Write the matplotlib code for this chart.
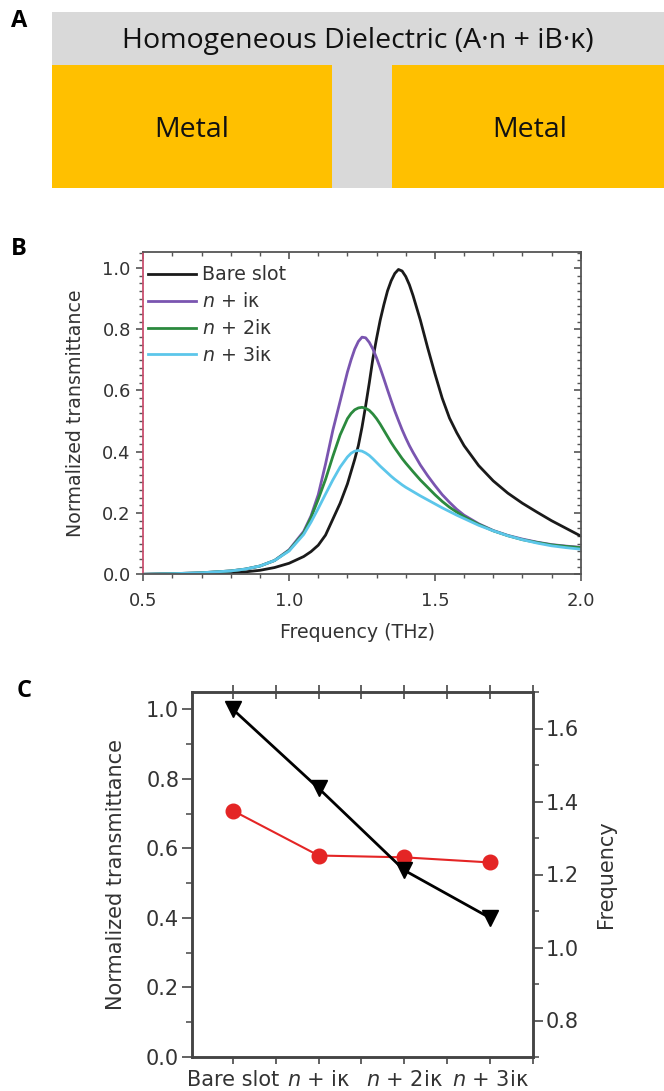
import numpy as np
import matplotlib
matplotlib.use("Agg")
import matplotlib.pyplot as plt
from matplotlib.patches import Rectangle
from matplotlib.ticker import MultipleLocator, FixedLocator, FormatStrFormatter

# ---- panel B: transmittance spectra ----
freq = [0.5, 0.6, 0.7, 0.8, 0.85, 0.9, 0.95, 1.0, 1.05, 1.075, 1.1, 1.125, 1.15, 1.175,
        1.2, 1.2125, 1.225, 1.2375, 1.25, 1.2625, 1.275, 1.2875, 1.3, 1.3125, 1.325,
        1.3375, 1.35, 1.3625, 1.375, 1.3875, 1.4, 1.4125, 1.425, 1.45, 1.475, 1.5,
        1.525, 1.55, 1.575, 1.6, 1.65, 1.7, 1.75, 1.8, 1.85, 1.9, 1.95, 2.0]
bare_slot = [0.0, 0.001, 0.002, 0.005, 0.008, 0.013, 0.022, 0.036, 0.058, 0.074, 0.095, 0.128, 0.18, 0.232,
             0.295, 0.335, 0.375, 0.42, 0.48, 0.55, 0.625, 0.705, 0.77, 0.83, 0.88,
             0.925, 0.958, 0.982, 0.995, 0.99, 0.972, 0.945, 0.91, 0.83, 0.74, 0.655,
             0.575, 0.51, 0.462, 0.42, 0.355, 0.305, 0.265, 0.232, 0.203, 0.175, 0.15, 0.125]
n_1ik = [0.0, 0.002, 0.005, 0.011, 0.017, 0.027, 0.045, 0.08, 0.14, 0.19, 0.26, 0.36, 0.47, 0.565,
         0.66, 0.70, 0.735, 0.76, 0.774, 0.772, 0.757, 0.735, 0.706, 0.673, 0.638,
         0.602, 0.567, 0.533, 0.502, 0.472, 0.445, 0.42, 0.398, 0.357, 0.322, 0.29,
         0.26, 0.235, 0.212, 0.193, 0.165, 0.143, 0.127, 0.115, 0.105, 0.097, 0.092, 0.088]
n_2ik = [0.0, 0.002, 0.005, 0.011, 0.017, 0.027, 0.045, 0.078, 0.135, 0.185, 0.245, 0.31, 0.385, 0.455,
         0.508, 0.525, 0.537, 0.543, 0.545, 0.542, 0.535, 0.523, 0.508, 0.49, 0.47,
         0.45, 0.43, 0.412, 0.395, 0.378, 0.363, 0.349, 0.335, 0.308, 0.284, 0.26,
         0.238, 0.219, 0.203, 0.188, 0.163, 0.142, 0.126, 0.113, 0.104, 0.096, 0.091, 0.087]
n_3ik = [0.0, 0.002, 0.005, 0.011, 0.017, 0.027, 0.045, 0.076, 0.13, 0.17, 0.215, 0.262, 0.308, 0.35,
         0.383, 0.395, 0.402, 0.404, 0.402, 0.396, 0.388, 0.377, 0.365, 0.353, 0.342,
         0.331, 0.32, 0.31, 0.301, 0.292, 0.284, 0.277, 0.27, 0.256, 0.243, 0.23,
         0.217, 0.205, 0.193, 0.182, 0.16, 0.142, 0.126, 0.113, 0.102, 0.093, 0.087, 0.082]
series_labels = ["Bare slot", r"$n$ + iκ", r"$n$ + 2iκ", r"$n$ + 3iκ"]
series_colors = ["#1a1a1a", "#7a55b0", "#2b8a3e", "#5cc6ea"]

# ---- panel C: peak values ----
cases = ["Bare slot", r"$n$ + iκ", r"$n$ + 2iκ", r"$n$ + 3iκ"]
peak_trans = [1.0, 0.773, 0.537, 0.40]
peak_freq = [1.375, 1.252, 1.247, 1.233]

W, H = 664, 1091
fig = plt.figure(figsize=(W / 100, H / 100), dpi=100)
plt.rcParams['font.family'] = ['DejaVu Sans']

def box(l, t, r, b):
    return [l / W, 1 - b / H, (r - l) / W, (b - t) / H]

txt = "#333333"
spine_c = "#555555"

# ---------------- panel A (schematic) ----------------
axA = fig.add_axes([0, 1 - 195 / H, 1, 195 / H])
axA.set_xlim(0, W)
axA.set_ylim(195, 0)
axA.axis("off")
axA.add_patch(Rectangle((52, 12), 612, 176, color="#d9d9d9", lw=0))
axA.add_patch(Rectangle((52, 65), 280, 123, color="#ffc000", lw=0))
axA.add_patch(Rectangle((392, 65), 272, 123, color="#ffc000", lw=0))
axA.text(358, 48, "Homogeneous Dielectric (A·n + iB·κ)", ha="center", va="baseline",
         family="Open Sans", fontsize=20.5, color="#111111")
axA.text(192, 137, "Metal", ha="center", va="baseline", family="Open Sans", fontsize=20.5, color="#111111")
axA.text(530, 137, "Metal", ha="center", va="baseline", family="Open Sans", fontsize=20.5, color="#111111")

for lab, x, y in [("A", 19, 21), ("B", 19, 249), ("C", 24, 691)]:
    fig.text(x / W, 1 - y / H, lab, ha="center", va="center", family="Open Sans",
             fontweight="bold", fontsize=17, color="black")

# ---------------- panel B ----------------
axB = fig.add_axes(box(143.3, 251.7, 580.7, 574.3))
for y, lab, col in zip([bare_slot, n_1ik, n_2ik, n_3ik], series_labels, series_colors):
    axB.plot(freq, y, color=col, lw=2.0, label=lab, solid_joinstyle="round")
axB.set_xlim(0.5, 2.0)
axB.set_ylim(0, 1.053)
axB.xaxis.set_major_locator(MultipleLocator(0.5))
axB.xaxis.set_minor_locator(MultipleLocator(0.1))
axB.yaxis.set_major_locator(MultipleLocator(0.2))
axB.yaxis.set_minor_locator(MultipleLocator(0.025))
axB.xaxis.set_major_formatter(FormatStrFormatter("%.1f"))
axB.yaxis.set_major_formatter(FormatStrFormatter("%.1f"))
axB.tick_params(which="both", direction="out", top=False, right=False, colors=spine_c,
                labelcolor=txt, labelsize=13)
axB.tick_params(which="major", length=5, width=1.2, pad=4)
axB.tick_params(which="minor", length=3, width=1.0)
axB.tick_params(axis="x", which="major", pad=8)
# mirrored inward ticks on top and right
secx = axB.secondary_xaxis("top")
secx.xaxis.set_major_locator(MultipleLocator(0.5))
secx.xaxis.set_minor_locator(MultipleLocator(0.1))
secx.tick_params(which="both", direction="in", labeltop=False, colors=spine_c)
secx.tick_params(which="major", length=5, width=1.2)
secx.tick_params(which="minor", length=3, width=1.0)
secx.spines["top"].set_visible(False)
secy = axB.secondary_yaxis("right")
secy.yaxis.set_major_locator(MultipleLocator(0.2))
secy.yaxis.set_minor_locator(MultipleLocator(0.025))
secy.tick_params(which="both", direction="in", labelright=False, colors=spine_c)
secy.tick_params(which="major", length=5, width=1.2)
secy.tick_params(which="minor", length=3, width=1.0)
secy.spines["right"].set_visible(False)
for s in axB.spines.values():
    s.set_color(spine_c)
    s.set_linewidth(1.3)
axB.spines["left"].set_color("#c9506f")
axB.set_xlabel("Frequency (THz)", fontsize=13.7, color=txt)
axB.set_ylabel("Normalized transmittance", fontsize=13.7, color=txt)
axB.xaxis.label.set_va("center")
axB.yaxis.label.set_va("center")
axB.xaxis.set_label_coords(0.49, -0.179)
axB.yaxis.set_label_coords(-0.156, 0.5)
leg = axB.legend(loc="upper left", bbox_to_anchor=(0.003, 0.97), frameon=False, fontsize=13.7,
                 handlelength=2.5, handletextpad=0.3, labelspacing=0.42, borderaxespad=0,
                 borderpad=0.2)
for t in leg.get_texts():
    t.set_color(txt)

# ---------------- panel C ----------------
axC = fig.add_axes(box(191.7, 692, 533, 1057))
axR = axC.twinx()
xpos = np.arange(len(cases))
axC.plot(xpos, peak_trans, color="black", lw=2.0, marker="v", markersize=12, zorder=3)
axR.plot(xpos, peak_freq, color="#e42525", lw=1.5, marker="o", markersize=10.5, zorder=2)
axC.set_zorder(axR.get_zorder() + 1)
axC.patch.set_visible(False)
axC.set_xlim(-0.48, 3.5)
axC.set_ylim(0, 1.05)
axR.set_ylim(0.7, 1.7)
axC.xaxis.set_major_locator(FixedLocator(xpos))
axC.xaxis.set_minor_locator(MultipleLocator(0.5))
axC.set_xticklabels(cases)
axC.yaxis.set_major_locator(MultipleLocator(0.2))
axC.yaxis.set_minor_locator(MultipleLocator(0.1))
axC.yaxis.set_major_formatter(FormatStrFormatter("%.1f"))
axR.yaxis.set_major_locator(FixedLocator([0.8, 1.0, 1.2, 1.4, 1.6]))
axR.yaxis.set_minor_locator(MultipleLocator(0.1))
axR.yaxis.set_major_formatter(FormatStrFormatter("%.1f"))
axC.tick_params(which="both", direction="out", right=False, colors=spine_c,
                labelcolor=txt, labelsize=15)
axC.tick_params(axis="x", which="both", top=True, length=5, width=1.3, pad=4)
axC.tick_params(axis="y", which="major", length=7, width=1.3, pad=2)
axC.tick_params(axis="y", which="minor", length=4, width=1.2)
axR.tick_params(which="both", direction="out", colors=spine_c, labelcolor=txt, labelsize=15)
axR.tick_params(which="major", length=7, width=1.3, pad=2)
axR.tick_params(which="minor", length=4, width=1.2)
secx2 = axC.secondary_xaxis("top")
secx2.xaxis.set_major_locator(FixedLocator(xpos))
secx2.xaxis.set_minor_locator(MultipleLocator(0.5))
secx2.tick_params(which="both", direction="in", labeltop=False, colors=spine_c, length=5, width=1.3)
secx2.spines["top"].set_visible(False)
for a in (axC, axR):
    for s in a.spines.values():
        s.set_color("#444444")
        s.set_linewidth(1.8)
axC.set_ylabel("Normalized transmittance", fontsize=15, color=txt)
axC.yaxis.label.set_va("center")
axC.yaxis.set_label_coords(-0.222, 0.5)
axR.set_ylabel("Frequency", fontsize=15, color=txt)
axR.yaxis.label.set_va("center")
axR.yaxis.set_label_coords(1.214, 0.5)

fig.savefig("out.png", dpi=100)
